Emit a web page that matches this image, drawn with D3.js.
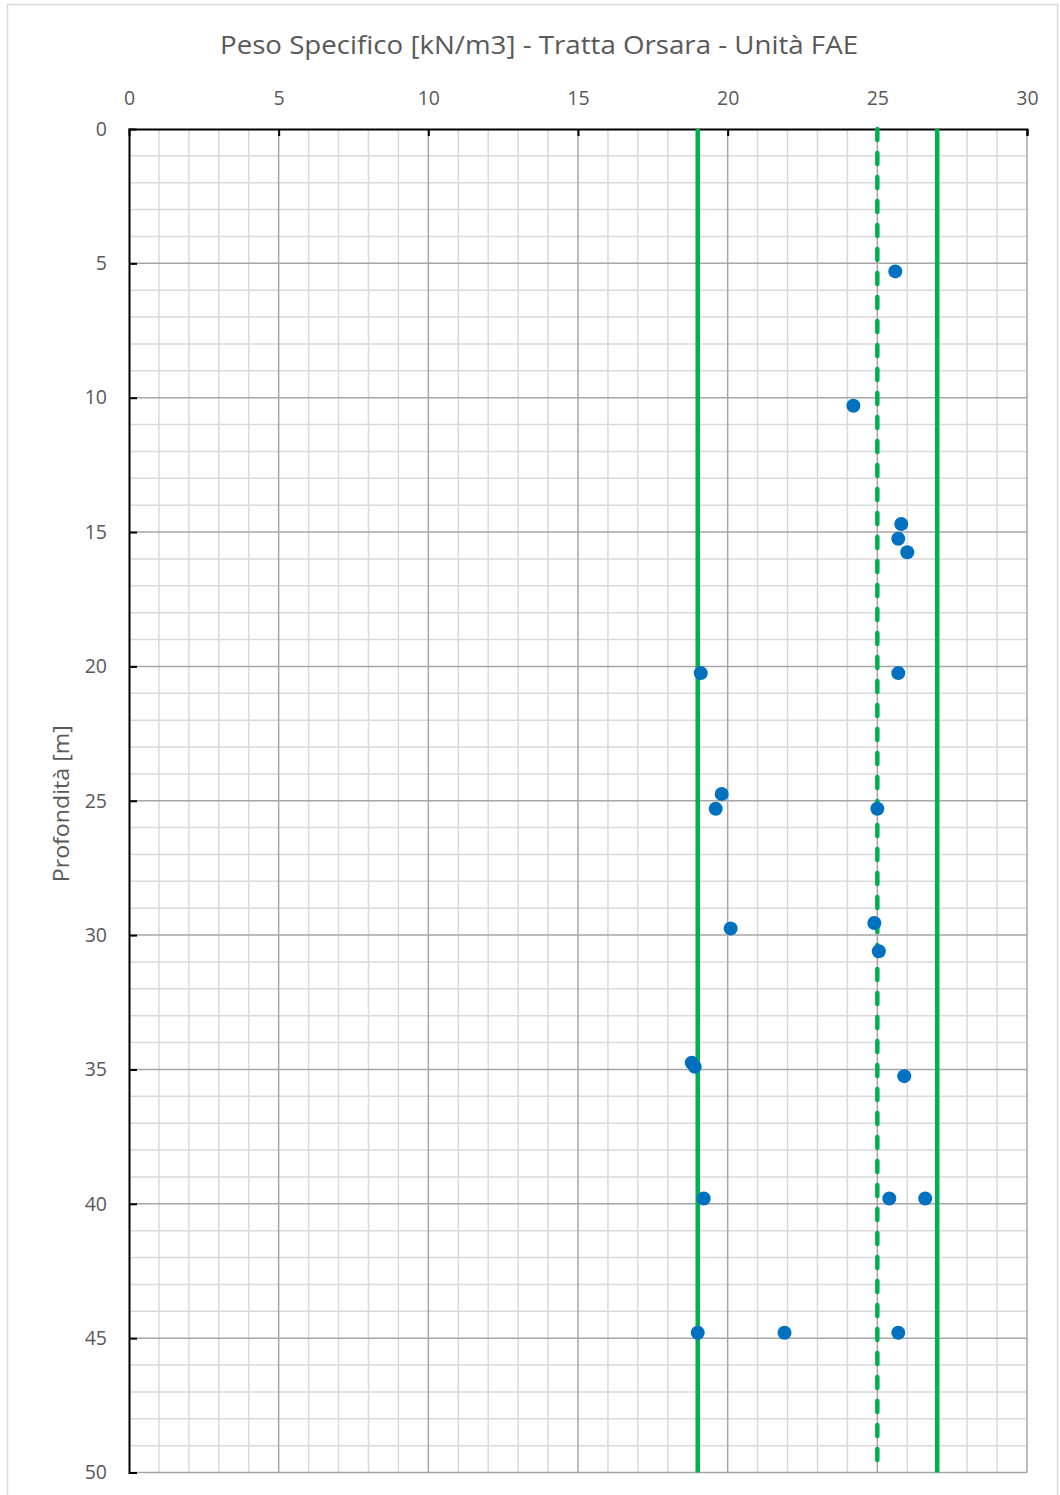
<!DOCTYPE html>
<html lang="it">
<head>
  <meta charset="UTF-8" />
  <title>Peso Specifico - Tratta Orsara - Unità FAE</title>
  <script src="https://d3js.org/d3.v7.min.js"></script>
  <style>
    body { margin: 0; background: #fff; font-family: "Open Sans", sans-serif; }
    svg text { fill: #595959; }
  </style>
</head>
<body>
  <svg width="1060" height="1495"></svg>
  <script>
    // data: peso specifico [kN/m3] vs profondità [m]
    const weights = [25.6, 24.2, 25.8, 25.7, 26.0, 19.1, 25.7, 19.8, 19.6, 25.0, 20.1, 24.9, 25.05,
                     18.8, 18.9, 25.9, 19.2, 25.4, 26.6, 19.0, 21.9, 25.7];
    const depths = [5.3, 10.3, 14.7, 15.25, 15.75, 20.25, 20.25, 24.75, 25.3, 25.3, 29.75, 29.55, 30.6,
                    34.75, 34.9, 35.25, 39.8, 39.8, 39.8, 44.8, 44.8, 44.8];
    const xTicks = [0, 5, 10, 15, 20, 25, 30];
    const yTicks = [0, 5, 10, 15, 20, 25, 30, 35, 40, 45, 50];
    const limitsSolid = [19, 27];
    const limitsDashed = [25];

    const svg = d3.select("svg");
    const margin = { top: 129, right: 33, bottom: 22.5, left: 129 };
    const width = +svg.attr("width") - margin.left - margin.right;
    const height = +svg.attr("height") - margin.top - margin.bottom;

    // outer chart border
    svg.append("rect")
      .attr("x", 7.5).attr("y", 4.5)
      .attr("width", 1050).attr("height", 1500)
      .attr("fill", "none").attr("stroke", "#d9d9d9").attr("stroke-width", 1.5);

    const x = d3.scaleLinear().domain([0, 30]).range([0, width]);
    const y = d3.scaleLinear().domain([0, 50]).range([0, height]);

    const g = svg.append("g").attr("transform", `translate(${margin.left},${margin.top})`);

    // minor grid
    g.append("g").selectAll("line").data(d3.range(1, 31).filter(d => d % 5 !== 0))
      .join("line")
      .attr("x1", d => x(d)).attr("x2", d => x(d))
      .attr("y1", 0).attr("y2", height)
      .attr("stroke", "#d9d9d9").attr("stroke-width", 1.5);
    g.append("g").selectAll("line").data(d3.range(1, 51).filter(d => d % 5 !== 0))
      .join("line")
      .attr("x1", 0).attr("x2", width)
      .attr("y1", d => y(d)).attr("y2", d => y(d))
      .attr("stroke", "#d9d9d9").attr("stroke-width", 1.5);

    // major grid
    g.append("g").selectAll("line").data(xTicks.slice(1))
      .join("line")
      .attr("x1", d => x(d)).attr("x2", d => x(d))
      .attr("y1", 0).attr("y2", height)
      .attr("stroke", "#a6a6a6").attr("stroke-width", 1.5);
    g.append("g").selectAll("line").data(yTicks.slice(1))
      .join("line")
      .attr("x1", 0).attr("x2", width)
      .attr("y1", d => y(d)).attr("y2", d => y(d))
      .attr("stroke", "#a6a6a6").attr("stroke-width", 1.5);

    // axes
    const xAxis = g.append("g")
      .call(d3.axisTop(x).tickValues(xTicks).tickSize(-7).tickPadding(24).tickFormat(d3.format("d")));
    const yAxis = g.append("g")
      .call(d3.axisLeft(y).tickValues(yTicks).tickSize(-8).tickPadding(22).tickFormat(d3.format("d")));
    [xAxis, yAxis].forEach(a => {
      a.select(".domain").attr("stroke", "#000").attr("stroke-width", 2);
      a.selectAll(".tick line").attr("stroke", "#000").attr("stroke-width", 2);
      a.selectAll(".tick text").attr("fill", "#595959")
        .style("font-family", "'Open Sans', sans-serif").style("font-size", "19.5px");
    });
    xAxis.selectAll(".tick").filter(d => d === 0).select("line").remove();
    yAxis.selectAll(".tick").filter(d => d === 0).select("line").remove();

    // reference lines
    g.append("g").selectAll("line").data(limitsSolid)
      .join("line")
      .attr("x1", d => x(d)).attr("x2", d => x(d))
      .attr("y1", 0).attr("y2", height)
      .attr("stroke", "#00b050").attr("stroke-width", 4.5);
    g.append("g").selectAll("line").data(limitsDashed)
      .join("line")
      .attr("x1", d => x(d)).attr("x2", d => x(d))
      .attr("y1", 0).attr("y2", height)
      .attr("stroke", "#00b050").attr("stroke-width", 4.5)
      .attr("stroke-dasharray", "11,13").attr("stroke-linecap", "round");

    // points
    g.append("g").selectAll("circle").data(weights)
      .join("circle")
      .attr("cx", d => x(d))
      .attr("cy", (d, i) => y(depths[i]))
      .attr("r", 7)
      .attr("fill", "#0070c0");

    // title
    svg.append("text")
      .attr("x", 539).attr("y", 54)
      .attr("text-anchor", "middle")
      .attr("textLength", 638).attr("lengthAdjust", "spacingAndGlyphs")
      .style("font-size", "26px")
      .text("Peso Specifico [kN/m3]  - Tratta Orsara - Unità FAE");

    // y axis title
    svg.append("text")
      .attr("transform", `translate(69,${margin.top + height / 2 + 3}) rotate(-90)`)
      .attr("text-anchor", "middle")
      .attr("textLength", 157).attr("lengthAdjust", "spacingAndGlyphs")
      .style("font-size", "21px")
      .text("Profondità [m]");
  </script>
</body>
</html>
